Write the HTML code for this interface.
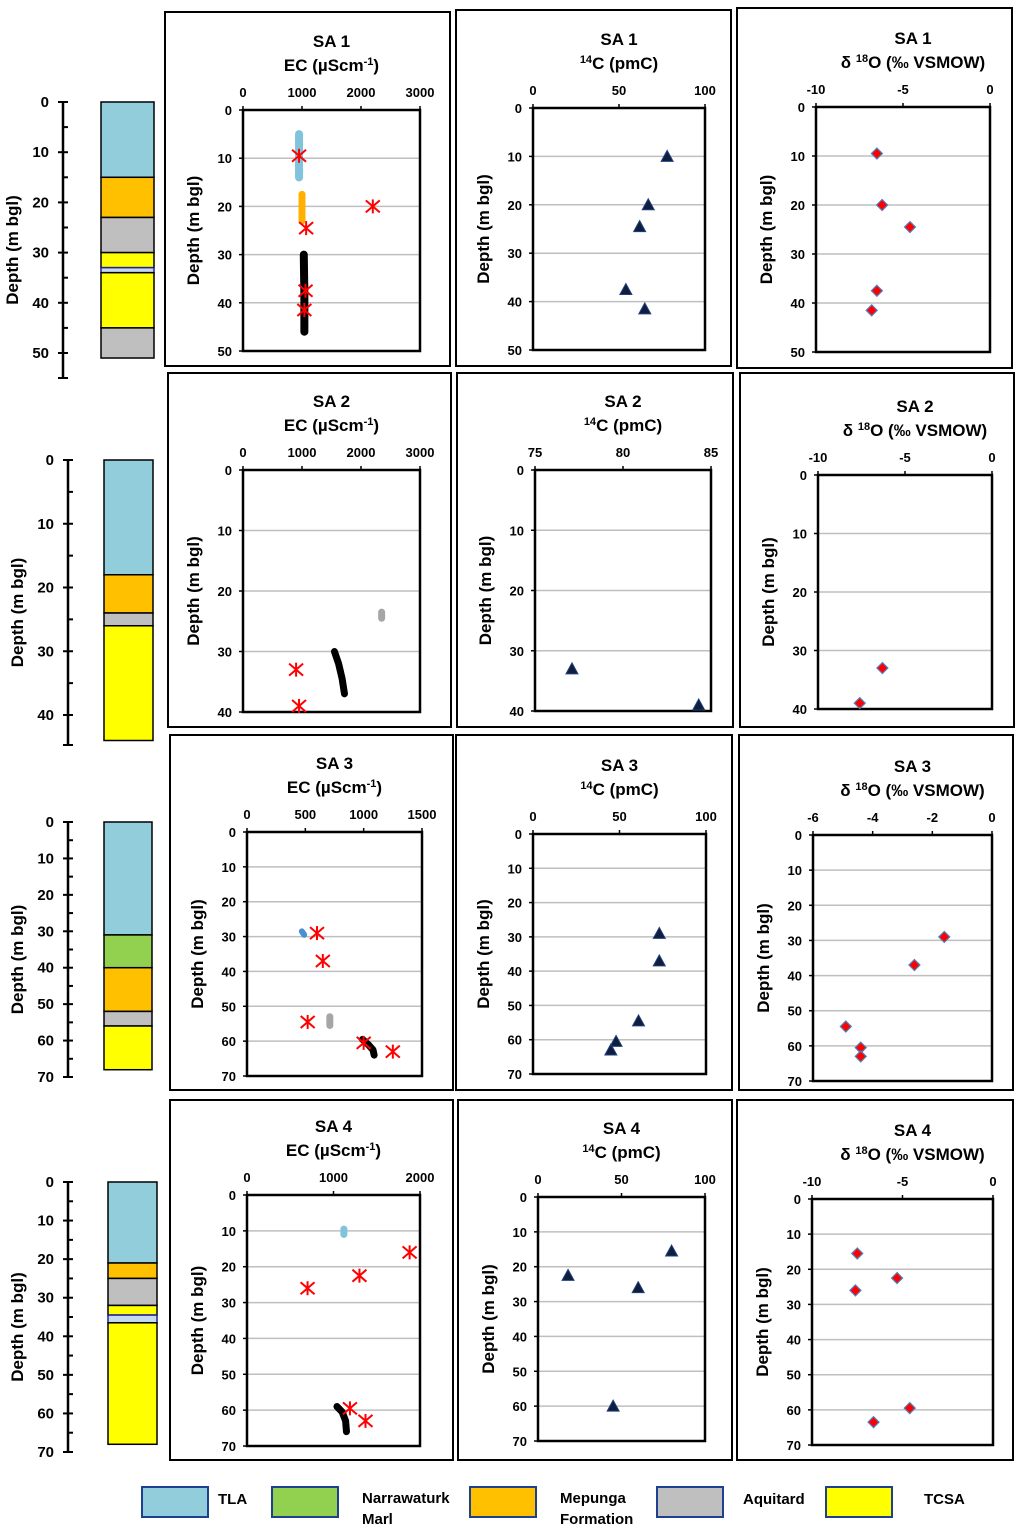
<!DOCTYPE html>
<html><head><meta charset="utf-8"><style>
body{margin:0;background:#fff;}
svg text{font-family:"Liberation Sans",sans-serif;font-weight:bold;fill:#000;}
</style></head><body>
<svg id="fig" width="1024" height="1534" viewBox="0 0 1024 1534" xmlns="http://www.w3.org/2000/svg"></svg>
<script>
// ---------- data ----------
const ecTitles = ["SA 1","SA 2","SA 3","SA 4"];
const ecTicks1 = [0,1000,2000,3000];
const ecTicks3 = [0,500,1000,1500];
const ecTicks4 = [0,1000,2000];
const c14Ticks = [0,50,100];
const c14Ticks2 = [75,80,85];
const o18Ticks = [-10,-5,0];
const o18Ticks3 = [-6,-4,-2,0];
const depth50 = [0,10,20,30,40,50];
const depth40 = [0,10,20,30,40];
const depth70 = [0,10,20,30,40,50,60,70];

const sa1EcStarX = [950,2200,1070,1060,1040];
const sa1EcStarD = [9.5,20,24.5,37.5,41.5];
const sa1EcBlueX = [950,950]; const sa1EcBlueD = [5,14];
const sa1EcOrX = [1000,1000]; const sa1EcOrD = [17.5,23];
const sa1EcBlkX = [1030,1040,1040]; const sa1EcBlkD = [30,38,46];
const sa1C14 = [78,67,62,54,65]; const sa1C14D = [10,20,24.5,37.5,41.5];
const sa1O18 = [-6.5,-6.2,-4.6,-6.5,-6.8]; const sa1O18D = [9.5,20,24.5,37.5,41.5];

const sa2EcStarX = [900,950]; const sa2EcStarD = [33,39];
const sa2EcGreyX = [2350,2350]; const sa2EcGreyD = [23.5,24.5];
const sa2EcBlkX = [1550,1620,1680,1720]; const sa2EcBlkD = [30,32,34.5,37];
const sa2C14 = [77.1,84.3]; const sa2C14D = [33,39];
const sa2O18 = [-6.3,-7.6]; const sa2O18D = [33,39];

const sa3EcStarX = [600,650,520,1000,1250]; const sa3EcStarD = [29,37,54.5,60.5,63];
const sa3EcBlueX = [470,490]; const sa3EcBlueD = [28.5,29.5];
const sa3EcGreyX = [710,710]; const sa3EcGreyD = [53,55.5];
const sa3EcBlkX = [990,1040,1080,1090]; const sa3EcBlkD = [59.5,61,62.5,64];
const sa3C14 = [73,73,61,48,45]; const sa3C14D = [29,37,54.5,60.5,63];
const sa3O18 = [-1.6,-2.6,-4.9,-4.4,-4.4]; const sa3O18D = [29,37,54.5,60.5,63];

const sa4EcStarX = [1880,1300,700,1190,1370]; const sa4EcStarD = [16,22.5,26,59.5,63];
const sa4EcBlueX = [1120,1120]; const sa4EcBlueD = [9.5,11];
const sa4EcBlkX = [1040,1100,1140,1150]; const sa4EcBlkD = [59,60.5,63,66];
const sa4C14 = [80,18,60,45]; const sa4C14D = [15.5,22.5,26,60];
const sa4O18 = [-7.5,-5.3,-7.6,-4.6,-6.6]; const sa4O18D = [15.5,22.5,26,59.5,63.5];

const litho1Top = [0,15,23,30,33,34,45]; const litho1Bot = [15,23,30,33,34,45,51];
const litho1Type = ["TLA","MEP","AQ","TCSA","BL","TCSA","AQ"];
const litho2Top = [0,18,24,26]; const litho2Bot = [18,24,26,44];
const litho2Type = ["TLA","MEP","AQ","TCSA"];
const litho3Top = [0,31,40,52,56]; const litho3Bot = [31,40,52,56,68];
const litho3Type = ["TLA","NM","MEP","AQ","TCSA"];
const litho4Top = [0,21,25,32,34.5,36.5]; const litho4Bot = [21,25,32,34.5,36.5,68];
const litho4Type = ["TLA","MEP","AQ","TCSA","BL","TCSA"];
const legendLabels = ["TLA","Narrawaturk|Marl","Mepunga|Formation","Aquitard","TCSA"];
const legendTypes = ["TLA","NM","MEP","AQ","TCSA"];

// ---------- drawing ----------
const NS="http://www.w3.org/2000/svg";
const svg=document.getElementById('fig');
const COL={TLA:"#92CDDC",NM:"#92D050",MEP:"#FFC000",AQ:"#BFBFBF",TCSA:"#FFFF00",BL:"#C5D9F1"};
function el(tag,attrs,parent){const e=document.createElementNS(NS,tag);for(const k in attrs)e.setAttribute(k,attrs[k]);(parent||svg).appendChild(e);return e;}
function txt(x,y,s,size,anchor,parent){const t=el('text',{x:x,y:y,'font-size':size,'text-anchor':anchor||'middle'},parent);t.textContent=s;return t;}

function panel(name,box,pl,xr,dr,xt,dt,title,unit){
  const g=el('g',{});
  
  
  const fr=el('rect',{x:box[0],y:box[1],width:box[2]-box[0],height:box[3]-box[1],fill:'none',stroke:'#000','stroke-width':2},g);
  
  
  const [x0,y0,x1,y1]=pl;
  const sx=v=>x0+(v-xr[0])/(xr[1]-xr[0])*(x1-x0);
  const sy=d=>y0+(d-dr[0])/(dr[1]-dr[0])*(y1-y0);
  const cx=(x0+x1)/2+ (unit==='o18'?10:0);
  const t1=txt(cx,y0-63,title,17,'middle',g);
  
  
  const t2=el('text',{x:cx,y:y0-39,'font-size':17,'text-anchor':'middle'},g);
  
  
  if(unit==='ec'){t2.innerHTML='EC (µScm<tspan dy="-6" font-size="11">-1</tspan><tspan dy="6">)</tspan>';}
  else if(unit==='c14'){t2.innerHTML='<tspan dy="-6" font-size="11">14</tspan><tspan dy="6">C (pmC)</tspan>';}
  else {t2.innerHTML='δ <tspan dy="-6" font-size="11">18</tspan><tspan dy="6">O (‰ VSMOW)</tspan>';}
  dt.forEach(d=>{
    const y=sy(d);
    if(d!==dr[0]&&d!==dr[1]){const gl=el('line',{x1:x0,x2:x1,y1:y,y2:y,stroke:'#BFBFBF','stroke-width':1.5},g);
      }
    el('line',{x1:x0-4,x2:x0,y1:y,y2:y,stroke:'#000','stroke-width':1.5},g);
    const l=txt(x0-11,y+5,String(d),13,'end',g);
    
  });
  xt.forEach(v=>{
    const x=sx(v);
    el('line',{x1:x,x2:x,y1:y0-4,y2:y0,stroke:'#000','stroke-width':1.5},g);
    const l=txt(x,y0-13,String(v),13,'middle',g);
    
  });
  const pr=el('rect',{x:x0,y:y0,width:x1-x0,height:y1-y0,fill:'none',stroke:'#000','stroke-width':2.5},g);
  
  const yt=el('text',{x:0,y:0,'font-size':17,'text-anchor':'middle',transform:`translate(${x0-44},${(y0+y1)/2}) rotate(-90)`},g);
  yt.textContent='Depth (m bgl)';
  
  return {g,sx,sy};
}
function stars(p,xs,ds){xs.forEach((v,i)=>{const x=p.sx(v),y=p.sy(ds[i]);const s=el('g',{stroke:'#FF0000','stroke-width':2},p.g);
  
  el('line',{x1:x-7,y1:y-6,x2:x+7,y2:y+6},s);el('line',{x1:x-7,y1:y+6,x2:x+7,y2:y-6},s);el('line',{x1:x,y1:y-7,x2:x,y2:y+7},s);});}
function profile(p,xs,ds,color,w,name){const pts=xs.map((v,i)=>p.sx(v)+','+p.sy(ds[i])).join(' ');
  const l=el('polyline',{points:pts,fill:'none',stroke:color,'stroke-width':w,'stroke-linecap':'round','stroke-linejoin':'round'},p.g);
  }
function tris(p,xs,ds){xs.forEach((v,i)=>{const x=p.sx(v),y=p.sy(ds[i]);
  const t=el('polygon',{points:`${x},${y-6} ${x-6},${y+5} ${x+6},${y+5}`,fill:'#0F1E3C',stroke:'#1F3F7F','stroke-width':1},p.g);
  });}
function dias(p,xs,ds){xs.forEach((v,i)=>{const x=p.sx(v),y=p.sy(ds[i]);
  const t=el('polygon',{points:`${x},${y-5.5} ${x+5.5},${y} ${x},${y+5.5} ${x-5.5},${y}`,fill:'#FF0000',stroke:'#4F81BD','stroke-width':1.2},p.g);
  });}

function litho(name,ax,y0d,y1d,dmax,tickMax,ext,colx0,colx1,tops,bots,types,step){
  const g=el('g',{});
  
  const sy=d=>y0d+d/dmax*(y1d-y0d);
  el('line',{x1:ax,x2:ax,y1:sy(0),y2:ext,stroke:'#000','stroke-width':2.5},g);
  for(let d=0;d<=tickMax;d+=step/2){const y=sy(d);const major=(d%step===0);
    el('line',{x1:ax-(major?5:0),x2:ax+5,y1:y,y2:y,stroke:'#000','stroke-width':2},g);
    if(major){const l=txt(ax-14,y+5,String(d),15,'end',g);}}
  el('line',{x1:ax-5,x2:ax+5,y1:ext,y2:ext,stroke:'#000','stroke-width':2},g);
  tops.forEach((t,i)=>{const r=el('rect',{x:colx0,y:sy(t),width:colx1-colx0,height:sy(bots[i])-sy(t),fill:COL[types[i]],stroke:types[i]==='BL'?'#1F1F9F':'#000','stroke-width':1.5},g);
    });
  const yt=el('text',{x:0,y:0,'font-size':17,'text-anchor':'middle',transform:`translate(${ax-45},${(sy(0)+ext)/2+10}) rotate(-90)`},g);
  yt.textContent='Depth (m bgl)';
  
}

// Row 1
litho('lithology-sa1',63,102,353,50,50,378,101,154,litho1Top,litho1Bot,litho1Type,10);
let p=panel('ec-sa1',[165,12,450,366],[243,110,420,351],[0,3000],[0,50],ecTicks1,depth50,ecTitles[0],'ec');
profile(p,sa1EcBlueX,sa1EcBlueD,'#7FC4DC',8,'ec-profile-tla');
profile(p,sa1EcOrX,sa1EcOrD,'#FFB000',7,'ec-profile-mepunga');
profile(p,sa1EcBlkX,sa1EcBlkD,'#000',8,'ec-profile-tcsa');
stars(p,sa1EcStarX,sa1EcStarD);
p=panel('c14-sa1',[456,10,731,366],[533,108,705,350],[0,100],[0,50],c14Ticks,depth50,'SA 1','c14');
tris(p,sa1C14,sa1C14D);
p=panel('o18-sa1',[737,8,1012,368],[816,107,990,352],[-10,0],[0,50],o18Ticks,depth50,'SA 1','o18');
dias(p,sa1O18,sa1O18D);
// Row 2
litho('lithology-sa2',68,460,715,40,40,745,104,153,litho2Top,litho2Bot,litho2Type,10);
p=panel('ec-sa2',[168,373,451,727],[243,470,420,712],[0,3000],[0,40],ecTicks1,depth40,'SA 2','ec');
profile(p,sa2EcGreyX,sa2EcGreyD,'#A6A6A6',7,'ec-profile-aquitard');
profile(p,sa2EcBlkX,sa2EcBlkD,'#000',7,'ec-profile-tcsa');
stars(p,sa2EcStarX,sa2EcStarD);
p=panel('c14-sa2',[457,373,733,727],[535,470,711,711],[75,85],[0,40],c14Ticks2,depth40,'SA 2','c14');
tris(p,sa2C14,sa2C14D);
p=panel('o18-sa2',[740,373,1014,727],[818,475,992,709],[-10,0],[0,40],o18Ticks,depth40,'SA 2','o18');
dias(p,sa2O18,sa2O18D);
// Row 3
litho('lithology-sa3',68,822,1077,70,70,1077,104,152,litho3Top,litho3Bot,litho3Type,10);
p=panel('ec-sa3',[170,735,453,1090],[247,832,422,1076],[0,1500],[0,70],ecTicks3,depth70,'SA 3','ec');
profile(p,sa3EcBlueX,sa3EcBlueD,'#4A90D0',6,'ec-profile-narrawaturk');
profile(p,sa3EcGreyX,sa3EcGreyD,'#A6A6A6',7,'ec-profile-aquitard');
profile(p,sa3EcBlkX,sa3EcBlkD,'#000',7,'ec-profile-tcsa');
stars(p,sa3EcStarX,sa3EcStarD);
p=panel('c14-sa3',[456,735,732,1090],[533,834,706,1074],[0,100],[0,70],c14Ticks,depth70,'SA 3','c14');
tris(p,sa3C14,sa3C14D);
p=panel('o18-sa3',[739,735,1013,1090],[813,835,992,1081],[-6,0],[0,70],o18Ticks3,depth70,'SA 3','o18');
dias(p,sa3O18,sa3O18D);
// Row 4
litho('lithology-sa4',68,1182,1452,70,70,1452,108,157,litho4Top,litho4Bot,litho4Type,10);
p=panel('ec-sa4',[170,1100,453,1460],[247,1195,420,1446],[0,2000],[0,70],ecTicks4,depth70,'SA 4','ec');
profile(p,sa4EcBlueX,sa4EcBlueD,'#7FC4DC',7,'ec-profile-tla');
profile(p,sa4EcBlkX,sa4EcBlkD,'#000',7,'ec-profile-tcsa');
stars(p,sa4EcStarX,sa4EcStarD);
p=panel('c14-sa4',[458,1100,732,1460],[538,1197,705,1441],[0,100],[0,70],c14Ticks,depth70,'SA 4','c14');
tris(p,sa4C14,sa4C14D);
p=panel('o18-sa4',[737,1100,1013,1460],[812,1199,993,1445],[-10,0],[0,70],o18Ticks,depth70,'SA 4','o18');
dias(p,sa4O18,sa4O18D);

// Legend
const lg=el('g',{});

const legX=[142,272,470,657,826];
legendTypes.forEach((t,i)=>{
  const e=el('g',{},lg);
  
  
  el('rect',{x:legX[i],y:1487,width:66,height:30,fill:COL[t],stroke:'#1F3F8F','stroke-width':2},e);
  const parts=legendLabels[i].split('|');
  const tx=legX[i]+(i===0?76:(i===4?98:(i===3?86:90)));
  parts.forEach((s,j)=>txt(tx,(parts.length>1?1503:1504)+j*21,s,15,'start',e));
});
</script>
</body></html>
